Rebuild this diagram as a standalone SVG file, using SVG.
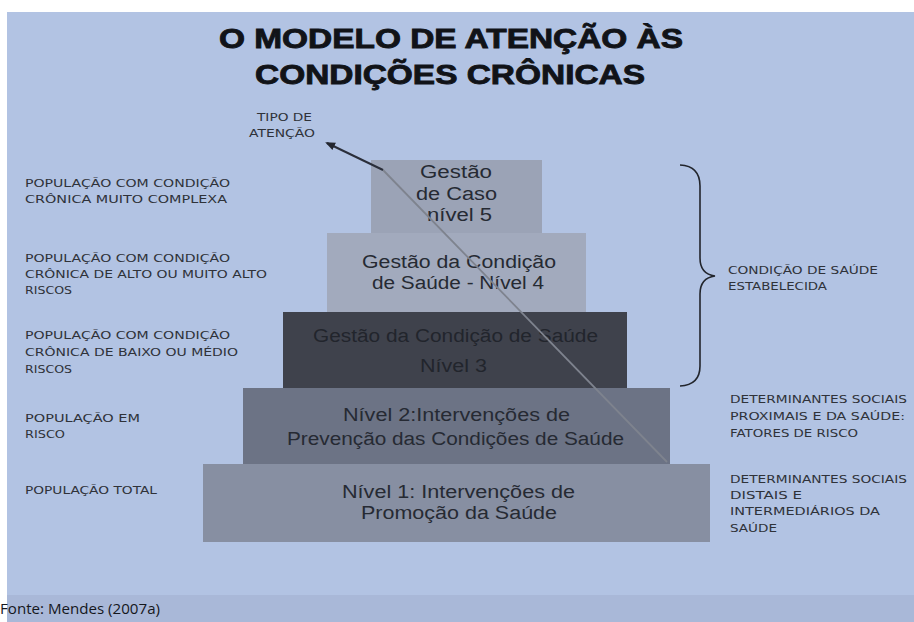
<svg xmlns="http://www.w3.org/2000/svg" width="914" height="622" viewBox="0 0 914 622">
<defs>
<style>
.title{font-family:"Liberation Sans",Arial,sans-serif;font-weight:bold;font-size:28px;fill:#111318;stroke:#111318;stroke-width:0.9px}
.cap{font-family:"DejaVu Sans","Liberation Sans",sans-serif;font-size:10px;fill:#2f3239}
.lvl{font-family:"Liberation Sans",Arial,sans-serif;font-size:18px;fill:#262a33}
.dk{fill:#22252c}
.src{font-family:"Open Sans","Liberation Sans",sans-serif;font-size:15px;fill:#15171c}
.box{stroke:none}
</style>
<marker id="ah" viewBox="0 0 10 10" refX="8" refY="5" markerWidth="5" markerHeight="5" orient="auto">
<path d="M0,1 L10,5 L0,9 Z" fill="#23262f"/>
</marker>
</defs>
<rect x="0" y="0" width="914" height="622" fill="#ffffff"/>
<rect x="7" y="12" width="907" height="610" fill="#b2c3e3"/>
<rect x="7" y="595" width="907" height="27" fill="#a9b8d8"/>
<g id="title">
<text class="title" x="219" y="48" textLength="464" lengthAdjust="spacingAndGlyphs">O MODELO DE ATENÇÃO ÀS</text>
<text class="title" x="255" y="84" textLength="390" lengthAdjust="spacingAndGlyphs">CONDIÇÕES CRÔNICAS</text>
</g>
<g id="level1">
<rect class="box" x="203" y="464" width="507" height="78" fill="#878fa2"/>
<text class="lvl" x="342" y="498" textLength="233" lengthAdjust="spacingAndGlyphs">Nível 1: Intervenções de</text>
<text class="lvl" x="361" y="519" textLength="196" lengthAdjust="spacingAndGlyphs">Promoção da Saúde</text>
</g>
<g id="level2">
<rect class="box" x="243" y="388" width="427" height="76" fill="#6c7385"/>
<text class="lvl" x="343" y="421" textLength="227" lengthAdjust="spacingAndGlyphs">Nível 2:Intervenções de</text>
<text class="lvl" x="287" y="445" textLength="337" lengthAdjust="spacingAndGlyphs">Prevenção das Condições de Saúde</text>
</g>
<g id="level3">
<rect class="box" x="283" y="312" width="344" height="76" fill="#3f424c"/>
<text class="lvl dk" x="313" y="342" textLength="285" lengthAdjust="spacingAndGlyphs">Gestão da Condição de Saúde</text>
<text class="lvl dk" x="420" y="372" textLength="67" lengthAdjust="spacingAndGlyphs">Nível 3</text>
</g>
<g id="level4">
<rect class="box" x="327" y="233" width="259" height="79" fill="#a2aabd"/>
<text class="lvl" x="362" y="268" textLength="194" lengthAdjust="spacingAndGlyphs">Gestão da Condição</text>
<text class="lvl" x="372" y="289" textLength="172" lengthAdjust="spacingAndGlyphs">de Saúde - Nível 4</text>
</g>
<g id="level5">
<rect class="box" x="371" y="160" width="171" height="73" fill="#9ba3b6"/>
<text class="lvl" x="420" y="178" textLength="72" lengthAdjust="spacingAndGlyphs">Gestão</text>
<text class="lvl" x="416" y="200" textLength="81" lengthAdjust="spacingAndGlyphs">de Caso</text>
<text class="lvl" x="427" y="221" textLength="65" lengthAdjust="spacingAndGlyphs">nível 5</text>
</g>
<g id="connectors" fill="none">
<path d="M383,170 L667,462" stroke="#7e838e" stroke-width="1.8"/>
<path d="M383,170 L327,143" stroke="#2a2e3a" stroke-width="2" marker-end="url(#ah)"/>
<path d="M680,165 Q700,166 700,186 L700,258 Q700,274 715,276 Q700,278 700,294 L700,366 Q700,385 680,386" stroke="#22252c" stroke-width="1.6"/>
</g>
<g id="labels-left">
<text class="cap" x="257" y="121" textLength="55" lengthAdjust="spacingAndGlyphs">TIPO DE</text>
<text class="cap" x="249" y="137" textLength="66" lengthAdjust="spacingAndGlyphs">ATENÇÃO</text>
<text class="cap" x="25" y="187" textLength="205" lengthAdjust="spacingAndGlyphs">POPULAÇÃO COM CONDIÇÃO</text>
<text class="cap" x="25" y="203" textLength="202" lengthAdjust="spacingAndGlyphs">CRÔNICA  MUITO COMPLEXA</text>
<text class="cap" x="25" y="262" textLength="205" lengthAdjust="spacingAndGlyphs">POPULAÇÃO COM CONDIÇÃO</text>
<text class="cap" x="25" y="278" textLength="242" lengthAdjust="spacingAndGlyphs">CRÔNICA DE ALTO OU MUITO ALTO</text>
<text class="cap" x="25" y="294" textLength="47" lengthAdjust="spacingAndGlyphs">RISCOS</text>
<text class="cap" x="25" y="339" textLength="205" lengthAdjust="spacingAndGlyphs">POPULAÇÃO COM CONDIÇÃO</text>
<text class="cap" x="25" y="356" textLength="213" lengthAdjust="spacingAndGlyphs">CRÔNICA DE BAIXO OU MÉDIO</text>
<text class="cap" x="25" y="373" textLength="47" lengthAdjust="spacingAndGlyphs">RISCOS</text>
<text class="cap" x="25" y="422" textLength="115" lengthAdjust="spacingAndGlyphs">POPULAÇÃO EM</text>
<text class="cap" x="25" y="438" textLength="40" lengthAdjust="spacingAndGlyphs">RISCO</text>
<text class="cap" x="25" y="494" textLength="132" lengthAdjust="spacingAndGlyphs">POPULAÇÃO TOTAL</text>
</g>
<g id="labels-right">
<text class="cap" x="728" y="274" textLength="150" lengthAdjust="spacingAndGlyphs">CONDIÇÃO DE SAÚDE</text>
<text class="cap" x="728" y="290" textLength="99" lengthAdjust="spacingAndGlyphs">ESTABELECIDA</text>
<text class="cap" x="730" y="403" textLength="177" lengthAdjust="spacingAndGlyphs">DETERMINANTES SOCIAIS</text>
<text class="cap" x="730" y="420" textLength="175" lengthAdjust="spacingAndGlyphs">PROXIMAIS E DA SAÚDE:</text>
<text class="cap" x="730" y="437" textLength="128" lengthAdjust="spacingAndGlyphs">FATORES DE RISCO</text>
<text class="cap" x="730" y="483" textLength="177" lengthAdjust="spacingAndGlyphs">DETERMINANTES SOCIAIS</text>
<text class="cap" x="730" y="499" textLength="72" lengthAdjust="spacingAndGlyphs">DISTAIS E</text>
<text class="cap" x="730" y="515" textLength="150" lengthAdjust="spacingAndGlyphs">INTERMEDIÁRIOS DA</text>
<text class="cap" x="730" y="532" textLength="47" lengthAdjust="spacingAndGlyphs">SAÚDE</text>
</g>
<g id="source">
<text class="src" x="0" y="614" textLength="160" lengthAdjust="spacingAndGlyphs">Fonte: Mendes (2007a)</text>
</g>
</svg>
